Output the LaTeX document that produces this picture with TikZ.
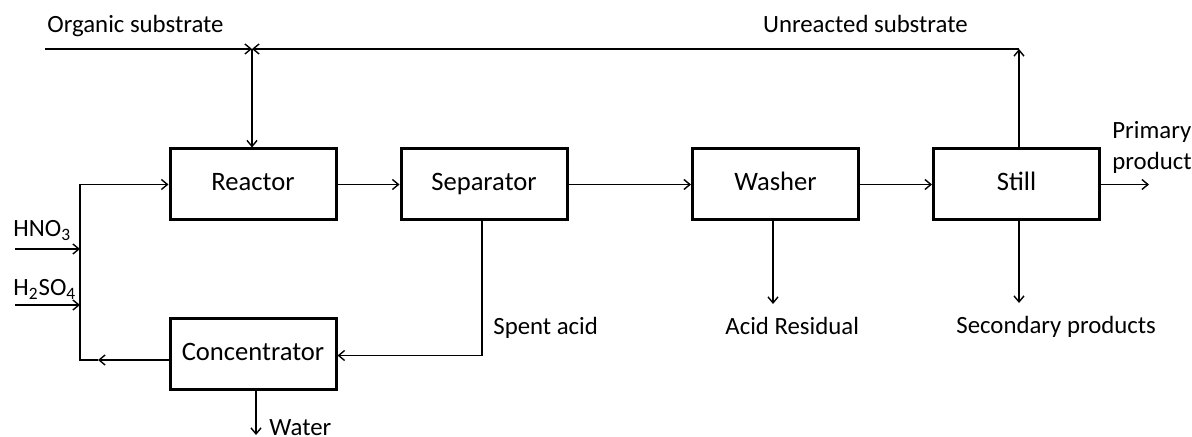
\documentclass[tikz,border=0pt]{standalone}
\usepackage{fontspec}
\setmainfont{Carlito}
\usetikzlibrary{arrows.meta}
\begin{document}
\begin{tikzpicture}[x=0.5pt,y=-0.5pt,
 every node/.style={font=\fontsize{12.4}{15}\selectfont},
 box/.style={draw,line width=1.5pt,minimum width=83pt,minimum height=35.5pt,inner sep=0pt,text height=0.72em,text depth=0.08em,font=\fontsize{13.3}{15}\selectfont},
 arr/.style={line width=0.7pt,-{Straight Barb[length=3pt,width=5pt]}},
 ln/.style={line width=0.7pt},
 lab/.style={inner sep=0pt,anchor=base west}]
\useasboundingbox (0,0) rectangle (1192,437);
% boxes
\node[box] (reactor) at (253,184.5) {Reactor};
\node[box] (sep) at (484,184.5) {Separator};
\node[box] (wash) at (775.5,184.5) {Washer};
\node[box] (still) at (1016.5,184.5) {Still};
\node[box] (conc) at (253,354.5) {Concentrator};
% labels
\node[lab] (os) at (47,33) {Organic substrate};
\node[lab,anchor=base east] (us) at (968,33) {Unreacted substrate};
\node[lab] (hno) at (13,237) {HNO\textsubscript{3}};
\node[lab] (hso) at (13,296) {H\textsubscript{2}SO\textsubscript{4}};
\node[lab] (spent) at (493,335) {Spent acid};
\node[lab] (resid) at (725,335) {Acid Residual};
\node[lab] (sec) at (956,334) {Secondary products};
\node[lab] (water) at (269,436) {Water};
\node[lab,align=left] (prim) at (1112,170) {Primary\\[0.6pt]product};
% coordinates
\coordinate (osl) at (45,49);
\coordinate (j) at (252,49);
\coordinate (uc) at (1019,49);
\coordinate (pp) at (1149,184.5);
\coordinate (sa) at (482,355.5);
\coordinate (ar) at (773,304);
\coordinate (sp) at (1019,303);
\coordinate (w) at (256,435);
\coordinate (mt) at (80,184.5);
\coordinate (mb) at (80,360);
\coordinate (ma) at (98,360);
\coordinate (h1) at (15,249);
\coordinate (h2) at (15,305);
% connectors
\draw[arr] (osl) -- (j);
\draw[arr] (still.north -| uc) -- (uc);
\draw[arr] (uc) -- (j);
\draw[arr] (j) -- (reactor.north -| j);
\draw[arr] (reactor.east) -- (sep.west);
\draw[arr] (sep.east) -- (wash.west);
\draw[arr] (wash.east) -- (still.west);
\draw[arr] (still.east) -- (pp);
\draw[arr] (sep.south -| sa) -- (sa) -- (conc.east |- sa);
\draw[arr] (wash.south -| ar) -- (ar);
\draw[arr] (still.south -| sp) -- (sp);
\draw[arr] (conc.south -| w) -- (w);
\draw[arr] (conc.west |- mb) -- (ma);
\draw[arr] (ma) -- (mb) -- (mt) -- (reactor.west);
\draw[arr] (h1) -- (h1 -| mt);
\draw[arr] (h2) -- (h2 -| mt);
\end{tikzpicture}
\end{document}
